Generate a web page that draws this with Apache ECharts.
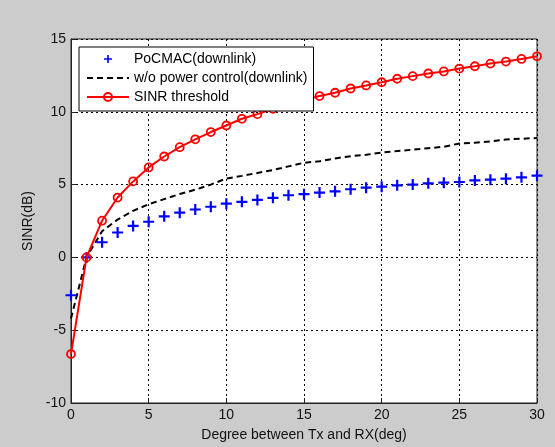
<!DOCTYPE html>
<html>
<head>
<meta charset="utf-8">
<script src="https://cdn.jsdelivr.net/npm/echarts@6/dist/echarts.min.js"></script>
<style>
  html, body { margin: 0; padding: 0; background: #cccccc; }
  #myGraph { width: 555px; height: 447px; }
</style>
</head>
<body>
<div id="myGraph"></div>
<script>
const degrees = [0, 1, 2, 3, 4, 5, 6, 7, 8, 9, 10, 11, 12, 13, 14, 15,
  16, 17, 18, 19, 20, 21, 22, 23, 24, 25, 26, 27, 28, 29, 30];
const pocmac = [-2.6, 0.0, 1.04, 1.71, 2.16, 2.45, 2.82, 3.07, 3.29, 3.48, 3.69,
  3.82, 3.95, 4.09, 4.27, 4.34, 4.45, 4.54, 4.68, 4.79, 4.86,
  4.95, 5.0, 5.09, 5.13, 5.18, 5.29, 5.34, 5.41, 5.5, 5.61];
const noPowerControl = [-4.2, 0.0, 1.8, 2.6, 3.2, 3.65, 4.0, 4.35, 4.65, 5.0, 5.42,
  5.6, 5.8, 6.0, 6.25, 6.5, 6.6, 6.8, 6.95, 7.05, 7.2,
  7.3, 7.4, 7.5, 7.6, 7.82, 7.88, 7.97, 8.1, 8.15, 8.2];
const sinrThreshold = [-6.64, 0.0, 2.52, 4.11, 5.22, 6.18, 6.93, 7.57, 8.11, 8.61, 9.06,
  9.52, 9.84, 10.2, 10.5, 10.8, 11.08, 11.31, 11.6, 11.81, 12.03,
  12.27, 12.45, 12.63, 12.77, 12.97, 13.13, 13.31, 13.45, 13.63, 13.81];
const seriesNames = ["PoCMAC(downlink)", "w/o power control(downlink)", "SINR threshold"];

function pairs(ys) {
  return degrees.map((x, i) => [x, ys[i]]);
}

let myChart = echarts.init(document.getElementById("myGraph"));
const plusPath = "path://M4,0H6V4H10V6H6V10H4V6H0V4H4Z";
const font = "Arial, 'Liberation Sans', sans-serif";
const gridLine = { show: true, lineStyle: { color: "#000", type: [2, 3], width: 1 } };

let option = {
  backgroundColor: "#cccccc",
  animation: false,
  textStyle: { fontFamily: font },
  grid: {
    left: 71, right: 18, top: 39, bottom: 41,
    show: true, backgroundColor: "#ffffff", borderColor: "#222", borderWidth: 1
  },
  legend: {
    orient: "vertical",
    left: 79, top: 47, z: 20,
    backgroundColor: "#ffffff",
    borderColor: "#000", borderWidth: 1, borderRadius: 0,
    padding: [5, 6, 7, 7],
    itemWidth: 42, itemHeight: 10, itemGap: 5,
    textStyle: { fontSize: 14, color: "#000", fontFamily: font },
    data: [
      { name: seriesNames[0] },
      { name: seriesNames[1], itemStyle: { opacity: 0 } },
      { name: seriesNames[2] }
    ]
  },
  xAxis: {
    type: "value", min: 0, max: 30, interval: 5,
    name: "Degree between Tx and RX(deg)",
    nameLocation: "middle", nameGap: 25,
    nameTextStyle: { fontSize: 14, color: "#111" },
    axisLine: { show: true, onZero: false, lineStyle: { color: "#222" } },
    axisTick: { inside: true, length: 5, lineStyle: { color: "#222" } },
    axisLabel: { fontSize: 14, color: "#111", margin: 5 },
    splitLine: gridLine
  },
  yAxis: {
    type: "value", min: -10, max: 15, interval: 5,
    name: "SINR(dB)",
    nameLocation: "middle", nameGap: 33,
    nameTextStyle: { fontSize: 14, color: "#111" },
    axisLine: { show: true, onZero: false, lineStyle: { color: "#222" } },
    axisTick: { inside: true, length: 5, lineStyle: { color: "#222" } },
    axisLabel: { fontSize: 14, color: "#111", margin: 5 },
    splitLine: gridLine
  },
  series: [
    {
      name: seriesNames[0],
      type: "line",
      data: pairs(pocmac),
      lineStyle: { width: 0, opacity: 0 },
      symbol: plusPath,
      symbolSize: 11,
      showAllSymbol: true,
      itemStyle: { color: "#0000ff" },
      z: 3
    },
    {
      name: seriesNames[1],
      type: "line",
      data: pairs(noPowerControl),
      showSymbol: false,
      symbol: "none",
      lineStyle: { color: "#000", width: 2, type: [6, 4] },
      itemStyle: { color: "#000" },
      z: 2
    },
    {
      name: seriesNames[2],
      type: "line",
      data: pairs(sinrThreshold),
      symbol: "circle",
      symbolSize: 8,
      showAllSymbol: true,
      lineStyle: { color: "#ff0000", width: 2 },
      itemStyle: { color: "rgba(255,255,255,0)", borderColor: "#ff0000", borderWidth: 1.8 },
      z: 4
    }
  ]
};

option && myChart.setOption(option);
</script>
</body>
</html>
